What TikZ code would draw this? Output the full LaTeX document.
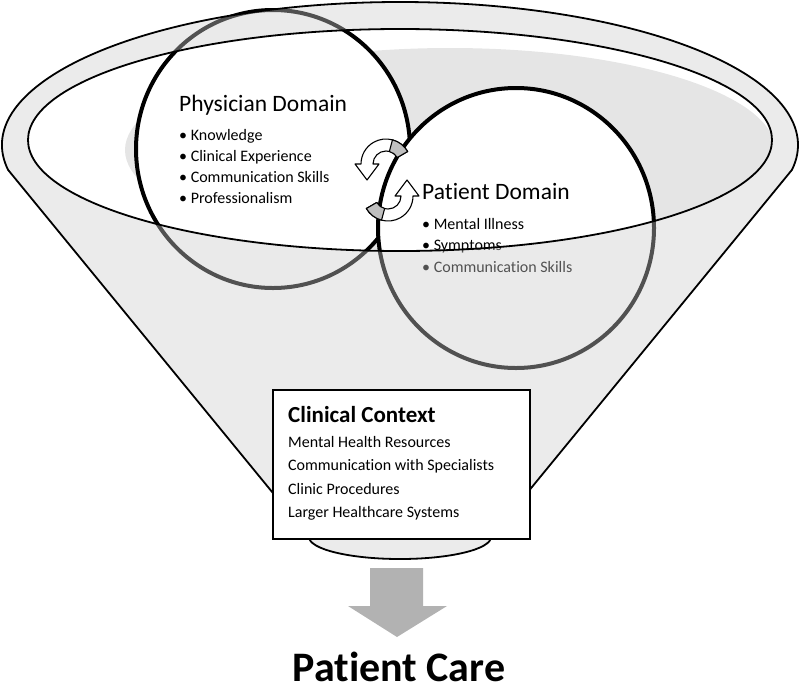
\documentclass[tikz,border=0pt]{standalone}
\usepackage{fontspec}
\setmainfont[Ligatures=NoCommon]{Carlito}
\tikzset{
	rim/.style={draw=black, line width=1.8},
	bubble/.style={draw=black, line width=4, fill=white},
	swaparrow/.style={draw=black, line width=1.1, fill=white, line join=round},
	ctxbox/.style={draw=black, line width=1.8, fill=white, minimum width=257, minimum height=149, anchor=north west, inner sep=0},
	head/.style={anchor=base west, inner sep=0, font=\fontsize{23.5}{28}\selectfont},
	item/.style={anchor=base west, inner sep=0, font=\fontsize{16}{19}\selectfont},
}
\begin{document}
\begin{tikzpicture}[x=1pt, y=-1pt]
	\useasboundingbox (0,0) rectangle (799,691);

	% shadow inside the rim
	\begin{scope}
		\clip (400,140) ellipse [x radius=372, y radius=111];
		\fill[black!10] (450,150) ellipse [x radius=325, y radius=102];
	\end{scope}

	% the two domains
	\draw[bubble] (273,149) ellipse [x radius=137, y radius=139];
	\draw[bubble] (516,228) ellipse [x radius=138, y radius=140];

	\node[head] (doc) at (179,111) {Physician Domain};
	\foreach \i/\t in {1/Knowledge, 2/Clinical Experience, 3/Communication Skills, 4/Professionalism}
	{
		\node[item] (doc\i) at (179, 119+21*\i) {• \t};
	}

	\node[head] (pat) at (422,199) {Patient Domain};
	\foreach \i/\t in {1/Mental Illness, 2/Symptoms, 3/Communication Skills}
	{
		\node[item] (pat\i) at (422, 207.5+21.5*\i) {• \t};
	}

	% exchange arrows
	\foreach \r in {0,180}
	{
		\begin{scope}[rotate around={\r:(387,180)}]
			\draw[swaparrow] (386,164) ++(-30:25) arc[start angle=-30, end angle=-180, radius=25]
				-- ++(-6,0) -- ++(12,16) -- ++(12,-16) -- ++(-6,0)
				arc[start angle=-180, end angle=-30, radius=13] -- cycle;
			\draw[swaparrow, fill=black!25] (386,164) ++(-30:25) arc[start angle=-30, end angle=-75, radius=25]
				-- ++(105:12) arc[start angle=-75, end angle=-30, radius=13] -- cycle;
		\end{scope}
	}

	% funnel
	\draw[rim, fill=black!20, fill opacity=0.4, even odd rule]
		(400,145) ++(170:398 and 143) arc[start angle=170, end angle=370, x radius=398, y radius=143]
		-- (491,537) arc[start angle=0, end angle=180, x radius=91, y radius=22] -- cycle
		(400,140) ellipse [x radius=372, y radius=111];

	% clinical context
	\node[ctxbox] (ctx) at (272,389) {};
	\node[anchor=base west, inner sep=0, font=\bfseries\fontsize{23}{28}\selectfont] (ctxhead) at (288,422) {Clinical Context};
	\foreach \i/\t in {1/Mental Health Resources, 2/Communication with Specialists, 3/Clinic Procedures, 4/Larger Healthcare Systems}
	{
		\node[item] (ctx\i) at (288, 423.5+23.5*\i) {\t};
	}

	% outcome
	\fill[black!30] (370,568) -- (423,568) -- (423,606) -- (447,606) -- (397,637) -- (348,606) -- (370,606) -- cycle;
	\node[anchor=base, inner sep=0, text depth=0pt, font=\bfseries\fontsize{42}{50}\selectfont] (care) at (399,681) {Patient Care};
\end{tikzpicture}
\end{document}
